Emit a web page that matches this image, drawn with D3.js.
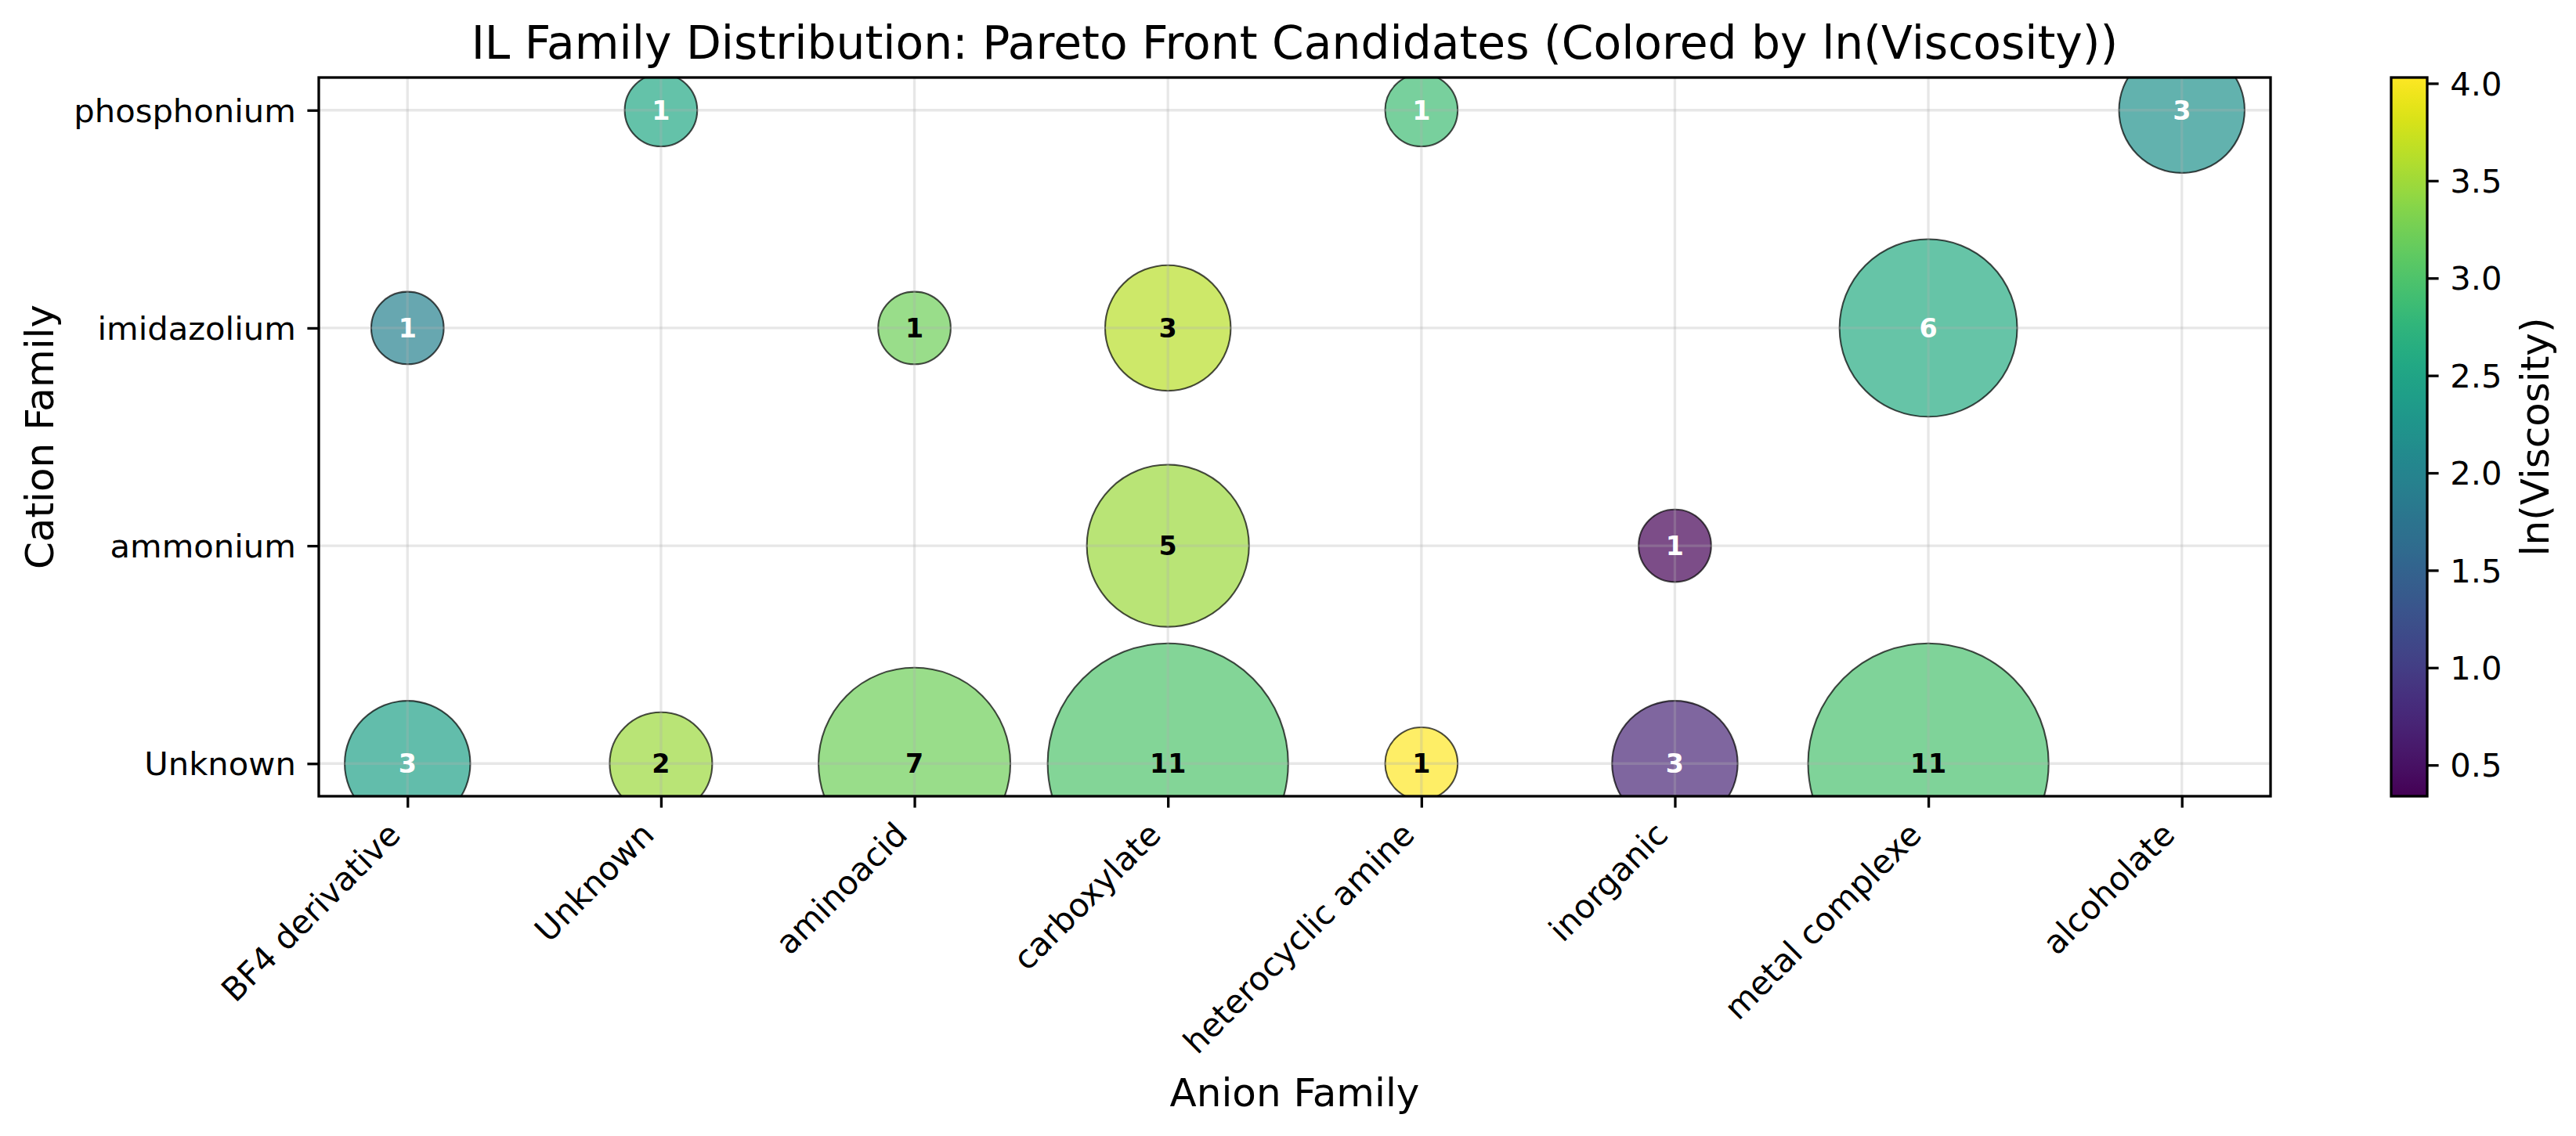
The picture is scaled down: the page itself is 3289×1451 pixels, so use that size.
<!DOCTYPE html>
<html>
<head>
<meta charset="utf-8">
<script src="https://cdn.jsdelivr.net/npm/d3@7"></script>
<style>
  body { margin: 0; background: #fff; }
  text { font-family: "DejaVu Sans", sans-serif; }
</style>
</head>
<body>
<svg id="chart" width="3289" height="1451"></svg>
<script>
// categories
var anions = ["BF4 derivative", "Unknown", "aminoacid", "carboxylate", "heterocyclic amine", "inorganic", "metal complexe", "alcoholate"];
var cations = ["Unknown", "ammonium", "imidazolium", "phosphonium"];

// one entry per bubble: anion index, cation index, count, mean ln(viscosity)
var ptAnion   = [1, 4, 7, 0, 2, 3, 6, 3, 5, 0, 1, 2, 3, 4, 5, 6];
var ptCation  = [3, 3, 3, 2, 2, 2, 2, 1, 1, 0, 0, 0, 0, 0, 0, 0];
var ptCount   = [1, 1, 3, 1, 1, 3, 6, 5, 1, 3, 2, 7, 11, 1, 3, 11];
var ptLnVisc  = [2.55, 2.88, 2.2, 1.98, 3.22, 3.64, 2.59, 3.48, 0.36, 2.44, 3.47, 3.21, 3.0, 4.03, 0.72, 2.96];

var cbTicks = [0.5, 1.0, 1.5, 2.0, 2.5, 3.0, 3.5, 4.0];
var lnMin = 0.34, lnMax = 4.03;
var labelThreshold = 2.92;

var svg = d3.select("#chart");
var L = 407, R = 2899, T = 99, B = 1017;

var x = d3.scaleLinear().domain([-0.35, 7.35]).range([L, R]);
var y = d3.scaleLinear().domain([-0.15, 3.15]).range([B, T]);
var r = d3.scaleSqrt().domain([0, 1]).range([0, 46.3]);
var color = d3.scaleSequential(d3.interpolateViridis).domain([lnMin, lnMax]);

svg.append("defs").append("clipPath").attr("id", "plotclip")
  .append("rect").attr("x", L).attr("y", T).attr("width", R - L).attr("height", B - T);

var pts = ptCount.map(function(c, i) {
  return {a: ptAnion[i], c: ptCation[i], n: c, v: ptLnVisc[i]};
});

// bubbles
var plot = svg.append("g").attr("clip-path", "url(#plotclip)");
plot.selectAll("circle").data(pts).enter().append("circle")
  .attr("cx", function(d) { return x(d.a); })
  .attr("cy", function(d) { return y(d.c); })
  .attr("r", function(d) { return r(d.n); })
  .attr("fill", function(d) { return color(d.v); })
  .attr("fill-opacity", 0.7)
  .attr("stroke", "#000").attr("stroke-opacity", 0.7).attr("stroke-width", 2.1);

// grid (drawn over bubbles like matplotlib)
var grid = svg.append("g");
grid.selectAll(".gx").data(d3.range(anions.length)).enter().append("line")
  .attr("x1", function(d) { return x(d); }).attr("x2", function(d) { return x(d); })
  .attr("y1", T).attr("y2", B)
  .attr("stroke", "#b0b0b0").attr("stroke-opacity", 0.3).attr("stroke-width", 3.3);
grid.selectAll(".gy").data(d3.range(cations.length)).enter().append("line")
  .attr("y1", function(d) { return y(d); }).attr("y2", function(d) { return y(d); })
  .attr("x1", L).attr("x2", R)
  .attr("stroke", "#b0b0b0").attr("stroke-opacity", 0.3).attr("stroke-width", 3.3);

// count labels
svg.append("g").selectAll("text").data(pts).enter().append("text")
  .attr("x", function(d) { return x(d.a); })
  .attr("y", function(d) { return y(d.c); })
  .attr("dy", "0.36em")
  .attr("text-anchor", "middle")
  .attr("font-size", 33.3).attr("font-weight", "bold")
  .attr("fill", function(d) { return d.v < labelThreshold ? "#fff" : "#000"; })
  .text(function(d) { return d.n; });

// axes
var xAxis = d3.axisBottom(x).tickValues(d3.range(anions.length))
  .tickFormat(function(i) { return anions[i]; }).tickSize(14.6).tickPadding(14.6);
var gx = svg.append("g").attr("transform", "translate(0," + B + ")").call(xAxis);
gx.select(".domain").remove();
gx.selectAll(".tick line").attr("stroke", "#000").attr("stroke-width", 3.3);
gx.selectAll(".tick text")
  .attr("font-size", 41.7).attr("font-family", "DejaVu Sans").attr("fill", "#000")
  .attr("text-anchor", "end")
  .attr("x", -7).attr("y", 51.6).attr("dy", 0)
  .attr("transform", "rotate(-45,-7,51.6)");

var yAxis = d3.axisLeft(y).tickValues(d3.range(cations.length))
  .tickFormat(function(i) { return cations[i]; }).tickSize(14.6).tickPadding(14.6);
var gy = svg.append("g").attr("transform", "translate(" + L + ",0)").call(yAxis);
gy.select(".domain").remove();
gy.selectAll(".tick line").attr("stroke", "#000").attr("stroke-width", 3.3);
gy.selectAll(".tick text")
  .attr("font-size", 41.7).attr("font-family", "DejaVu Sans").attr("fill", "#000")
  .attr("dy", "0.35em");

// frame
svg.append("rect").attr("x", L).attr("y", T).attr("width", R - L).attr("height", B - T)
  .attr("fill", "none").attr("stroke", "#000").attr("stroke-width", 3.3);

// titles
svg.append("text").attr("x", (L + R) / 2).attr("y", 75).attr("text-anchor", "middle")
  .attr("font-size", 58.3).text("IL Family Distribution: Pareto Front Candidates (Colored by ln(Viscosity))");
svg.append("text").attr("x", (L + R) / 2).attr("y", 1413).attr("text-anchor", "middle")
  .attr("font-size", 50).text("Anion Family");
svg.append("text").attr("transform", "translate(68," + (T + B) / 2 + ") rotate(-90)")
  .attr("text-anchor", "middle").attr("font-size", 50).text("Cation Family");

// colorbar
var cbL = 3053, cbW = 46;
var cbScale = d3.scaleLinear().domain([lnMin, lnMax]).range([B, T]);
var grad = svg.select("defs").append("linearGradient").attr("id", "viridis")
  .attr("x1", 0).attr("y1", 1).attr("x2", 0).attr("y2", 0);
d3.range(0, 1.0001, 0.02).forEach(function(t) {
  grad.append("stop").attr("offset", t).attr("stop-color", d3.interpolateViridis(t));
});
svg.append("rect").attr("x", cbL).attr("y", T).attr("width", cbW).attr("height", B - T)
  .attr("fill", "url(#viridis)");
var cbAxis = d3.axisRight(cbScale).tickValues(cbTicks).tickFormat(d3.format(".1f"))
  .tickSize(14.6).tickPadding(14.6);
var gc = svg.append("g").attr("transform", "translate(" + (cbL + cbW) + ",0)").call(cbAxis);
gc.select(".domain").remove();
gc.selectAll(".tick line").attr("stroke", "#000").attr("stroke-width", 3.3);
gc.selectAll(".tick text")
  .attr("font-size", 41.7).attr("font-family", "DejaVu Sans").attr("fill", "#000")
  .attr("dy", "0.35em");
svg.append("rect").attr("x", cbL).attr("y", T).attr("width", cbW).attr("height", B - T)
  .attr("fill", "none").attr("stroke", "#000").attr("stroke-width", 3.3);
svg.append("text").attr("transform", "translate(3254," + (T + B) / 2 + ") rotate(-90)")
  .attr("text-anchor", "middle").attr("font-size", 50).text("ln(Viscosity)");
</script>
</body>
</html>
